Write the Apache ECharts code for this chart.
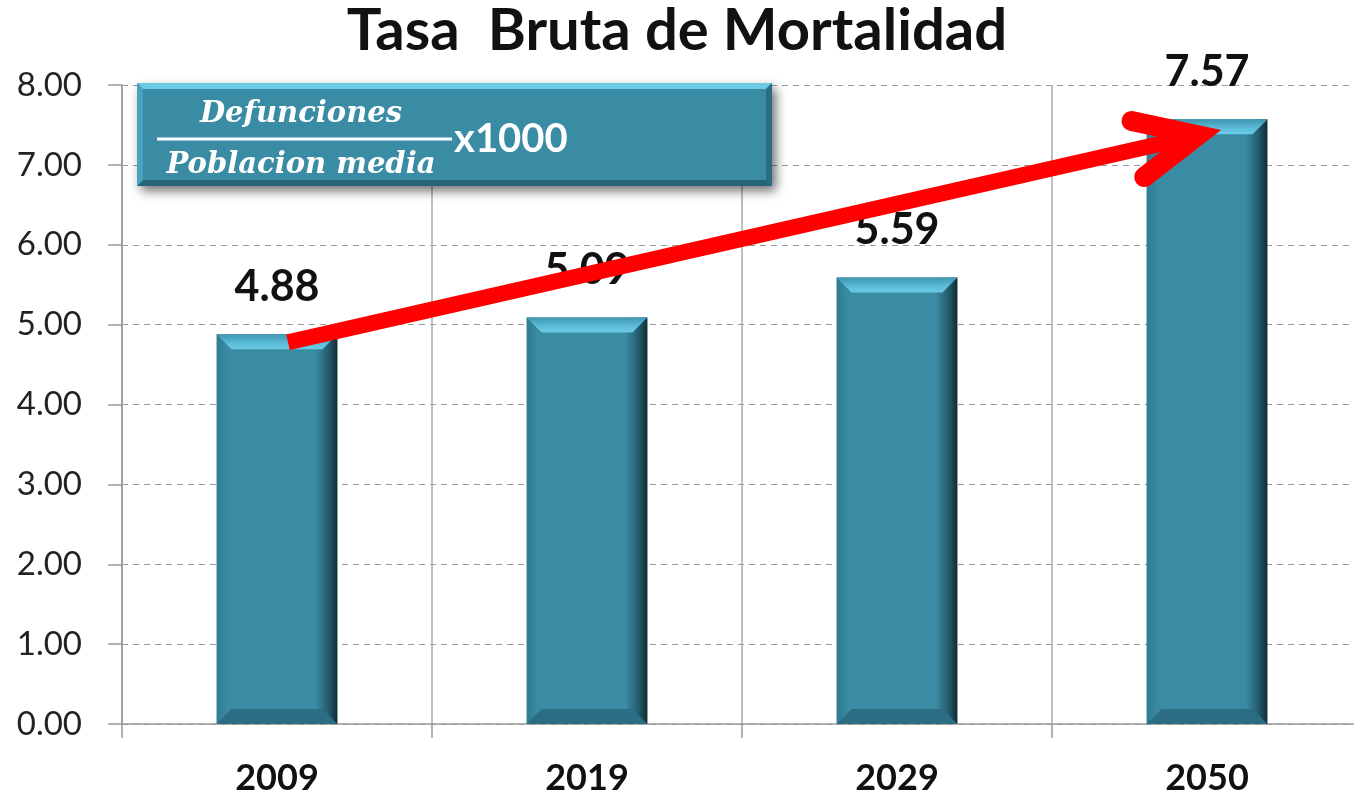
<!DOCTYPE html>
<html><head><meta charset="utf-8">
<script src="https://cdn.jsdelivr.net/npm/echarts@6/dist/echarts.min.js"></script>
<style>html,body{margin:0;padding:0;background:#fff}#c{width:1354px;height:793px}</style>
</head><body><div id="c"></div>
<script>
const categories = ['2009', '2019', '2029', '2050'];
const values = [4.88, 5.09, 5.59, 7.57];
const yTicks = [0, 1, 2, 3, 4, 5, 6, 7, 8];
const titleText = 'Tasa  Bruta de Mortalidad';
const numerator = 'Defunciones';
const denominator = 'Poblacion media';
const multiplier = 'x1000';
// arrow anchors in data space: [categoryIndex, value]
const arrowStart = [0, 4.78];
const arrowEnd = [3, 7.37];

const chart = echarts.init(document.getElementById('c'), null, {renderer: 'canvas'});

function renderBar(params, api) {
  const cat = api.value(0), v = api.value(1);
  const top = api.coord([cat, v]);
  const bot = api.coord([cat, 0]);
  const w = api.size([1, 0])[0] * 0.39;
  const l = top[0] - w / 2, r = top[0] + w / 2, t = top[1], b = bot[1];
  const bv = 15;
  return {
    type: 'group',
    children: [
      {type: 'rect', shape: {x: l, y: t, width: w, height: b - t},
        style: {fill: new echarts.graphic.LinearGradient(0, 0, 1, 0, [
          {offset: 0, color: '#2f7b92'}, {offset: 0.1, color: '#3a8ca5'},
          {offset: 0.82, color: '#3a8ca5'}, {offset: 0.93, color: '#23596a'}, {offset: 1, color: '#0f2a33'}])}},
      {type: 'polygon', shape: {points: [[l, t], [r, t], [r - bv, t + bv], [l + bv, t + bv]]},
        style: {fill: new echarts.graphic.LinearGradient(0, 0, 0, 1, [
          {offset: 0, color: '#3f96b0'}, {offset: 0.6, color: '#5cbdd9'}, {offset: 1, color: '#6ccbe4'}])}},
      {type: 'polygon', shape: {points: [[l, b], [r, b], [r - bv, b - bv], [l + bv, b - bv]]},
        style: {fill: '#2b6e83'}},
      {type: 'text', style: {text: values[params.dataIndex].toFixed(2), x: top[0], y: t - 47,
        align: 'center', verticalAlign: 'middle', font: 'bold 43px Lato', fill: '#111'}}
    ]
  };
}

chart.setOption({
  animation: false,
  title: {text: titleText, left: 'center', top: -3,
    textStyle: {fontFamily: 'Lato', fontWeight: 'bold', fontSize: 58, color: '#111'}},
  grid: {left: 122, top: 85, width: 1240, height: 639, containLabel: false, outerBoundsMode: 'none'},
  xAxis: {type: 'category', data: categories, boundaryGap: true,
    axisLine: {show: true, lineStyle: {color: '#999', width: 1.5}},
    axisTick: {show: true, length: 14, alignWithLabel: false, lineStyle: {color: '#999', width: 1.5}},
    splitLine: {show: true, lineStyle: {color: '#aaa', width: 1.5, type: 'solid'}},
    axisLabel: {fontFamily: 'Lato', fontWeight: 'bold', fontSize: 36, color: '#111', margin: 36}},
  yAxis: {type: 'value', min: yTicks[0], max: yTicks[yTicks.length - 1], interval: 1,
    axisLine: {show: true, lineStyle: {color: '#999', width: 1.5}},
    axisTick: {show: true, length: 14, lineStyle: {color: '#999', width: 1.5}},
    splitLine: {show: true, lineStyle: {color: '#999', width: 1, type: [6, 5]}},
    axisLabel: {fontFamily: 'Lato', fontSize: 33, color: '#222', margin: 40,
      formatter: v => v.toFixed(2)}},
  series: [{type: 'custom', renderItem: renderBar, data: values.map((v, i) => [i, v]),
    encode: {x: 0, y: 1}, z: 3}]
});

function drawAnnotations() {
  const p0 = chart.convertToPixel({gridIndex: 0}, arrowStart);
  const p1 = chart.convertToPixel({gridIndex: 0}, arrowEnd);
  const x0 = p0[0] + 11, y0 = p0[1], x1 = p1[0] - 9, y1 = p1[1];
  const ang = Math.atan2(y0 - y1, x0 - x1);
  const armLen = 68, spread = 25 * Math.PI / 180;
  const a1 = [x1 + armLen * Math.cos(ang + spread), y1 + armLen * Math.sin(ang + spread)];
  const a2 = [x1 + armLen * Math.cos(ang - spread), y1 + armLen * Math.sin(ang - spread)];

  const bx = 137, by = 83, bw = 635, bh = 103, bb = 6;
  chart.setOption({graphic: [
    {type: 'group', left: bx, top: by, z: 50, children: [
      {type: 'rect', shape: {x: 0, y: 0, width: bw, height: bh},
        style: {fill: '#3a8ca5', shadowBlur: 10, shadowOffsetX: 4, shadowOffsetY: 5, shadowColor: 'rgba(0,0,0,0.55)'}},
      {type: 'polygon', shape: {points: [[0, 0], [bw, 0], [bw - bb, bb], [bb, bb]]}, style: {fill: '#6ccbe4'}},
      {type: 'polygon', shape: {points: [[bw, 0], [bw, bh], [bw - bb, bh - bb], [bw - bb, bb]]}, style: {fill: '#2a6d82'}},
      {type: 'polygon', shape: {points: [[0, bh], [bw, bh], [bw - bb, bh - bb], [bb, bh - bb]]}, style: {fill: '#25657a'}},
      {type: 'polygon', shape: {points: [[0, 0], [0, bh], [bb, bh - bb], [bb, bb]]}, style: {fill: '#4aa3bd'}},
      {type: 'text', style: {text: numerator, x: 164, y: 31, align: 'center', verticalAlign: 'middle',
        font: 'italic bold 29px "DejaVu Serif"', fill: '#fff'}},
      {type: 'line', shape: {x1: 20, y1: 56, x2: 315, y2: 56}, style: {stroke: '#fff', lineWidth: 3}},
      {type: 'text', style: {text: denominator, x: 164, y: 82, align: 'center', verticalAlign: 'middle',
        font: 'italic bold 29px "DejaVu Serif"', fill: '#fff'}},
      {type: 'text', style: {text: multiplier, x: 317, y: 56, align: 'left', verticalAlign: 'middle',
        font: 'bold 40px Lato', fill: '#fff'}}
    ]},
    {type: 'line', z: 60, shape: {x1: x0, y1: y0, x2: x1, y2: y1},
      style: {stroke: '#ff0000', lineWidth: 16, lineCap: 'butt'}},
    {type: 'polyline', z: 61, shape: {points: [a1, [x1, y1], a2]},
      style: {stroke: '#ff0000', lineWidth: 20, lineCap: 'round', lineJoin: 'miter', fill: null}}
  ]});
}
drawAnnotations();
</script></body></html>
